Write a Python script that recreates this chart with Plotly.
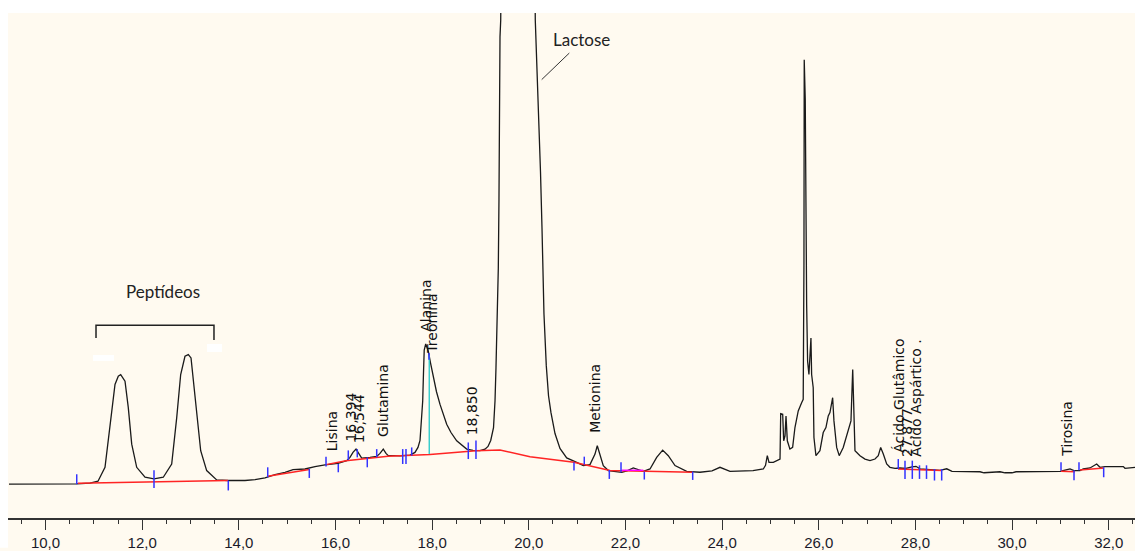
import plotly.graph_objects as go

# Chromatogram trace: retention time (min) and detector signal (mV, baseline ~0)
rt = [9.245, 10.300, 10.646, 10.921, 11.086, 11.231, 11.335, 11.438, 11.506, 11.556,
      11.645, 11.713, 11.784, 11.887, 12.059, 12.245, 12.437, 12.611, 12.715, 12.797,
      12.886, 12.955, 13.011, 13.058, 13.128, 13.211, 13.335, 13.542, 13.776, 14.128,
      14.335, 14.542, 14.749, 14.956, 15.121, 15.369, 15.576, 15.783, 16.052, 16.232,
      16.300, 16.362, 16.425, 16.476, 16.542, 16.714, 16.853, 16.921, 16.989, 17.045,
      17.087, 17.335, 17.542, 17.645, 17.707, 17.749, 17.780, 17.805, 17.821, 17.836,
      17.867, 17.921, 17.966, 18.024, 18.090, 18.163, 18.301, 18.390, 18.508, 18.715,
      18.845, 18.990, 19.094, 19.156, 19.212, 19.270, 19.301, 19.321, 19.348, 19.369,
      19.383, 19.394, 19.404, 19.419, 19.425, 19.766, 20.128, 20.134, 20.163, 20.197,
      20.242, 20.273, 20.314, 20.362, 20.408, 20.459, 20.542, 20.645, 20.784, 20.991,
      21.128, 21.266, 21.370, 21.417, 21.473, 21.541, 21.645, 21.922, 22.032, 22.162,
      22.369, 22.508, 22.646, 22.770, 22.886, 23.025, 23.267, 23.542, 23.791, 23.956,
      24.163, 24.639, 24.852, 24.898, 24.935, 24.970, 25.059, 25.162, 25.198, 25.212,
      25.253, 25.274, 25.301, 25.322, 25.349, 25.403, 25.459, 25.507, 25.575, 25.645,
      25.678, 25.693, 25.699, 25.720, 25.734, 25.749, 25.769, 25.796, 25.838, 25.852,
      25.885, 25.900, 25.941, 26.024, 26.092, 26.148, 26.196, 26.231, 26.287, 26.314,
      26.370, 26.423, 26.506, 26.610, 26.666, 26.702, 26.729, 26.749, 26.853, 26.956,
      27.060, 27.163, 27.231, 27.281, 27.335, 27.405, 27.473, 27.577, 27.680, 27.804,
      27.929, 28.011, 28.094, 28.301, 28.508, 28.647, 28.756, 29.336, 29.419, 29.750,
      29.853, 29.998, 30.081, 30.991, 31.198, 31.281, 31.405, 31.473, 31.612, 31.750,
      31.819, 31.922, 32.301, 32.336, 32.543]
signal = [0, 0, 0.3, 1, 3, 17, 57, 100.3, 108.7, 110.3,
          103.7, 77, 40.3, 17, 7, 5.3, 7, 20.3, 67, 110.3,
          128.7, 130.3, 127, 103.7, 67, 33.7, 13.7, 4.3, 3.7, 3.7,
          4.7, 6.3, 9.7, 12, 14.7, 15.3, 17.7, 19.5, 21, 23.7,
          27, 32, 35.3, 31, 26.3, 27, 28, 31, 35.3, 31,
          29, 28.5, 29.3, 32, 37, 44, 62, 84, 112, 135,
          141, 133.7, 122, 107, 93, 80.3, 60.3, 52, 43.7, 35.3,
          34, 33.7, 35.3, 38, 44, 57, 84, 117, 167, 217,
          287, 387, 450, 467, 507, 1087, 507, 467, 427, 387,
          314, 258, 171, 119, 89, 72, 51, 36, 26.5, 22,
          18.7, 19.7, 30.3, 38.7, 30.3, 18.7, 13.7, 12, 13.5, 16.3,
          13, 15.3, 27, 34.3, 28.7, 18.7, 13, 12, 13.5, 17,
          13, 13.7, 15.3, 19, 28.7, 22, 22, 24.3, 25.3, 71,
          70.3, 43.7, 48.7, 68.7, 43.7, 35.3, 37, 57, 73.7, 82,
          85.3, 220.3, 427, 387, 220.3, 180.3, 123.7, 110.3, 147, 110.3,
          97, 47, 28.7, 33.7, 52, 57, 68.7, 72, 87, 63.7,
          37, 28.7, 37, 53.7, 63.7, 115.3, 63.7, 33.7, 28.7, 25.3,
          23.7, 25.3, 28.7, 37, 30.3, 20.3, 17, 16, 16.3, 16,
          17.5, 18, 15.5, 14.5, 14, 15.5, 13, 12.5, 11.5, 12.5,
          11.5, 11.5, 12.5, 13, 15.3, 13.7, 13.7, 15.3, 16.3, 20.3,
          17, 17.7, 17.7, 16, 17]

# Integration baselines (red), one list of (rt, signal) pairs per segment
baseline_segments = [
    [(10.672, 1), (12.245, 2.3), (13.776, 3.7)],
    [(14.598, 8), (15.458, 14.7)],
    [(15.804, 19.7), (16.218, 23.5), (17.087, 28), (17.956, 30), (18.908, 33.7),
     (19.404, 34.5), (20.025, 27.7), (20.935, 22), (21.680, 13.7), (23.397, 12)],
    [(27.639, 15.3), (28.543, 13.7)],
    [(31.012, 13), (31.302, 12.5)],
    [(31.405, 14.3), (31.902, 16.3)],
]
# Drop-line baseline piece (magenta) and Alanina/Treonina split (cyan)
magenta_segment = [(21.922, 14), (22.369, 14)]
split_rt = 17.94
split_range = (30.3, 130.3)

# Peak start/end markers (blue): time, upper and lower signal
marker_rt = [10.646, 12.245, 13.782, 14.598, 15.458, 15.804, 16.058, 16.265, 16.451,
             16.658, 16.853, 17.391, 17.459, 17.577, 17.935, 18.748, 18.907, 20.935,
             21.148, 21.666, 21.908, 22.390, 23.391, 27.645, 27.784, 27.935, 28.084,
             28.229, 28.394, 28.543, 31.012, 31.281, 31.384, 31.895]
marker_top = [10, 14, 3.7, 17, 15.3, 27.7, 20.3, 34, 35.3, 27, 35.3, 35.3, 35.3, 37,
              132, 42, 44, 22, 27.7, 14.3, 22, 12.7, 12.7, 25.3, 23.7, 23.7, 19, 19,
              15.3, 15.3, 22, 14, 22, 17]
marker_bot = [0, -3.7, -6.3, 7, 6.3, 17.7, 12, 24.3, 27, 17, 27, 20.3, 20.3, 28.7,
              125.3, 25.3, 25.3, 13.7, 19.7, 5.3, 12, 4.7, 4.3, 15.3, 5.3, 5.3, 5.3,
              5.3, 3.7, 3.7, 13.7, 4, 14, 7]

# Rotated peak names: text, rt, signal at the label centre
peak_labels = [
    ("Lisina", 15.922, 53),
    ("16,394", 16.320, 68),
    ("16,544", 16.480, 66),
    ("Glutamina", 16.977, 84.5),
    ("Alanina", 17.873, 179.5),
    ("Treonina", 18.007, 162),
    ("18,850", 18.818, 74),
    ("Metionina", 21.370, 86),
    ("Ácido Glutâmico", 27.660, 89),
    ("27,877", 27.815, 52),
    ("Ácido Aspártico .", 28.011, 87),
    ("Tirosina", 31.130, 55.5),
]

x_range = [9.224, 32.543]
y_range = [-34, 474]

fig = go.Figure()

fig.add_trace(go.Scatter(x=rt, y=signal, mode="lines",
                         line=dict(color="#1a1a1a", width=1.3), hoverinfo="skip"))

bx, by = [], []
for seg in baseline_segments:
    bx += [p[0] for p in seg] + [None]
    by += [p[1] for p in seg] + [None]
fig.add_trace(go.Scatter(x=bx, y=by, mode="lines",
                         line=dict(color="#ff2424", width=1.5), hoverinfo="skip"))

fig.add_trace(go.Scatter(x=[p[0] for p in magenta_segment], y=[p[1] for p in magenta_segment],
                         mode="lines", line=dict(color="#ff00ff", width=1.5), hoverinfo="skip"))

fig.add_trace(go.Scatter(x=[split_rt, split_rt], y=list(split_range), mode="lines",
                         line=dict(color="#20c8c8", width=1.3), hoverinfo="skip"))

mx, my = [], []
for t, top, bot in zip(marker_rt, marker_top, marker_bot):
    mx += [t, t, None]
    my += [top, bot, None]
fig.add_trace(go.Scatter(x=mx, y=my, mode="lines",
                         line=dict(color="#3333ff", width=1.5), hoverinfo="skip"))

annotations = []
for text, t, s in peak_labels:
    annotations.append(dict(x=t, y=s, text=text, textangle=-90, showarrow=False,
                            xanchor="center", yanchor="middle",
                            font=dict(family="DejaVu Sans", size=14, color="#111111")))
annotations.append(dict(x=12.431, y=194, text="Peptídeos", showarrow=False,
                        xanchor="center", yanchor="middle",
                        font=dict(family="Lato", size=17, color="#222222")))
annotations.append(dict(x=21.094, y=447, text="Lactose", showarrow=False,
                        xanchor="center", yanchor="middle",
                        font=dict(family="Lato", size=17, color="#222222")))

shapes = [
    # bracket over the peptide peaks
    dict(type="path", path="M 11.045,147 L 11.045,160 L 13.486,160 L 13.486,145",
         line=dict(color="#222222", width=1.5)),
    dict(type="rect", x0=10.983, x1=11.417, y0=124, y1=130,
         fillcolor="white", line=dict(width=0)),
    dict(type="rect", x0=13.342, x1=13.653, y0=133, y1=141,
         fillcolor="white", line=dict(width=0)),
    # leader line for the lactose label
    dict(type="line", x0=20.838, y0=433.7, x1=20.267, y1=407,
         line=dict(color="#333333", width=1)),
    # white page strips left and top of the chart panel
    dict(type="rect", xref="paper", yref="paper", x0=-8 / 1127, x1=0,
         y0=-30 / 508, y1=1 + 13 / 508, fillcolor="white", line=dict(width=0), layer="above"),
    dict(type="rect", xref="paper", yref="paper", x0=-8 / 1127, x1=1,
         y0=1, y1=1 + 13 / 508, fillcolor="white", line=dict(width=0), layer="above"),
]

fig.update_layout(
    width=1135, height=551,
    margin=dict(l=8, r=0, t=13, b=30),
    paper_bgcolor="#FFFAF0", plot_bgcolor="#FFFAF0",
    showlegend=False, separators=",.",
    annotations=annotations, shapes=shapes,
    xaxis=dict(range=x_range, showgrid=False, zeroline=False,
               showline=True, linecolor="#333333", linewidth=1.5,
               ticks="outside", ticklen=10, tickwidth=1, tickcolor="#333333",
               tick0=10, dtick=2, tickformat=".1f",
               tickfont=dict(family="Liberation Sans", size=15, color="#1a1a2a"),
               minor=dict(dtick=0.5, tick0=10, ticks="outside", ticklen=4,
                          tickwidth=1, tickcolor="#333333", showgrid=False)),
    yaxis=dict(range=y_range, visible=False, showgrid=False, zeroline=False),
)

fig.write_html("out.html")
